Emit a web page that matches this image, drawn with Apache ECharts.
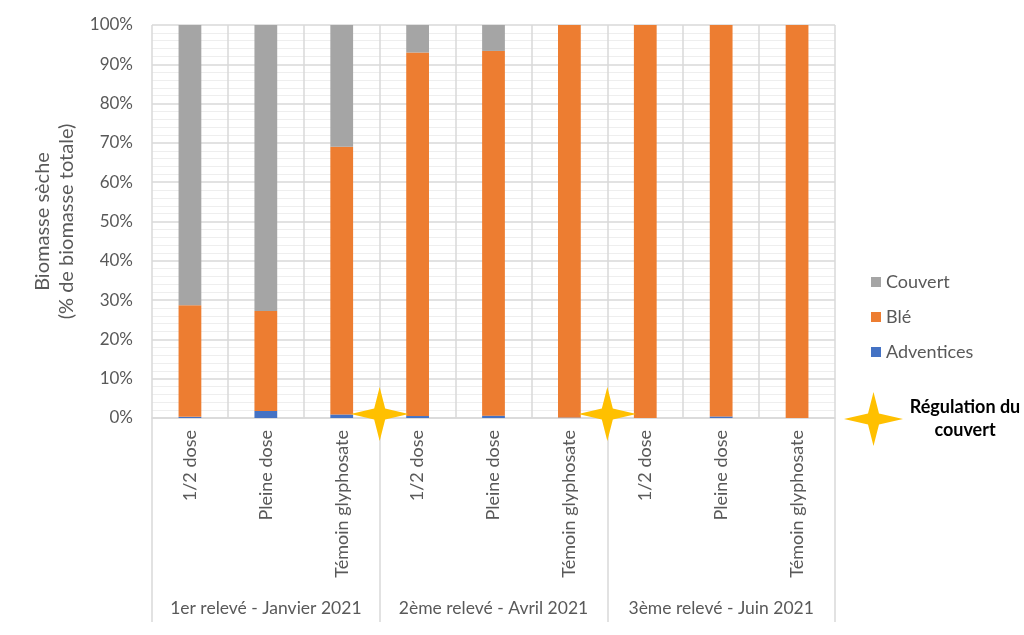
<!DOCTYPE html>
<html><head><meta charset="utf-8">
<script src="https://cdn.jsdelivr.net/npm/echarts@6/dist/echarts.min.js"></script>
<style>html,body{margin:0;padding:0;background:#fff}#c{width:1024px;height:635px}</style>
</head><body><div id="c"></div>
<script>
const categories = ['1/2 dose','Pleine dose','Témoin glyphosate','1/2 dose','Pleine dose','Témoin glyphosate','1/2 dose','Pleine dose','Témoin glyphosate'];
const groups = ['1er relevé - Janvier 2021','2ème relevé - Avril 2021','3ème relevé - Juin 2021'];
const adventices = [0.3, 1.8, 0.9, 0.5, 0.6, 0.1, 0, 0.4, 0];
const ble = [28.4, 25.4, 68.1, 92.5, 92.8, 99.9, 100, 99.6, 100];
const couvert = [71.3, 72.8, 31.0, 7.0, 6.6, 0, 0, 0, 0];
const yTicks = [0,10,20,30,40,50,60,70,80,90,100];
const starAfterCategory = [2, 5];

const FONT = 'Lato';
const chart = echarts.init(document.getElementById('c'));
const grid = {left:152, right:189, top:25, bottom:217};
chart.setOption({
  animation:false,
  textStyle:{fontFamily:FONT},
  grid: grid,
  legend:{
    orient:'vertical', left:866, top:268, itemWidth:10, itemHeight:10, itemGap:17,
    data:['Couvert','Blé','Adventices'],
    textStyle:{color:'#595959', fontSize:18, fontFamily:FONT},
    icon:'rect'
  },
  xAxis:[{
    type:'category', data:categories,
    axisLine:{show:true, lineStyle:{color:'#d9d9d9', width:1.5}},
    axisTick:{show:false},
    splitLine:{show:true, interval:0, lineStyle:{color:'#d9d9d9', width:1.5}},
    axisLabel:{rotate:90, interval:0, color:'#595959', fontSize:18, margin:12, fontFamily:FONT}
  },{
    type:'category', data:groups, position:'bottom', offset:204,
    axisLine:{show:false},
    axisTick:{show:true, inside:true, length:204, interval:0, lineStyle:{color:'#d9d9d9', width:1.5}},
    axisLabel:{inside:true, interval:0, color:'#595959', fontSize:17.5, margin:5, verticalAlign:'bottom', fontFamily:FONT}
  }],
  yAxis:{
    type:'value', min:0, max:100, interval:10,
    axisLabel:{formatter:v=>v+'%', color:'#595959', fontSize:17, margin:19, fontFamily:FONT},
    axisLine:{show:false}, axisTick:{show:false},
    splitLine:{lineStyle:{color:'#d9d9d9', width:1.5}},
    minorTick:{show:false, splitNumber:5},
    minorSplitLine:{show:true, lineStyle:{color:'#eeeeee', width:1}},
    name:'Biomasse sèche\n(% de biomasse totale)', nameLocation:'middle', nameGap:72,
    nameTextStyle:{color:'#595959', fontSize:20, lineHeight:24, fontFamily:FONT}
  },
  series:[
    {name:'Adventices', type:'bar', stack:'a', data:adventices, barWidth:'30%', itemStyle:{color:'#4472C4'}},
    {name:'Blé', type:'bar', stack:'a', data:ble, itemStyle:{color:'#ED7D31'}},
    {name:'Couvert', type:'bar', stack:'a', data:couvert, itemStyle:{color:'#A5A5A5'}}
  ]
});

function starPoints(cx, cy, w, h){
  const r = 5.5;
  return [[cx, cy-h],[cx+r, cy-r],[cx+w, cy],[cx+r, cy+r],[cx, cy+h],[cx-r, cy+r],[cx-w, cy],[cx-r, cy-r]];
}
const y0 = chart.convertToPixel({yAxisIndex:0}, 0);
const graphics = starAfterCategory.map(i=>{
  const xa = chart.convertToPixel({xAxisIndex:0}, i);
  const xb = chart.convertToPixel({xAxisIndex:0}, i+1);
  const cx = (xa+xb)/2;
  return {type:'polygon', shape:{points:starPoints(cx, y0-4, 29, 27)}, style:{fill:'#FFC000'}, z:100};
});
graphics.push({type:'polygon', shape:{points:starPoints(873.5, 419, 29.5, 27)}, style:{fill:'#FFC000'}, z:100});
graphics.push({type:'text', x:965, y:419, style:{text:'Régulation du\ncouvert', fill:'#000', font:'bold 18px '+FONT, align:'center', verticalAlign:'middle', lineHeight:23}, z:100});
chart.setOption({graphic:graphics});
</script></body></html>
